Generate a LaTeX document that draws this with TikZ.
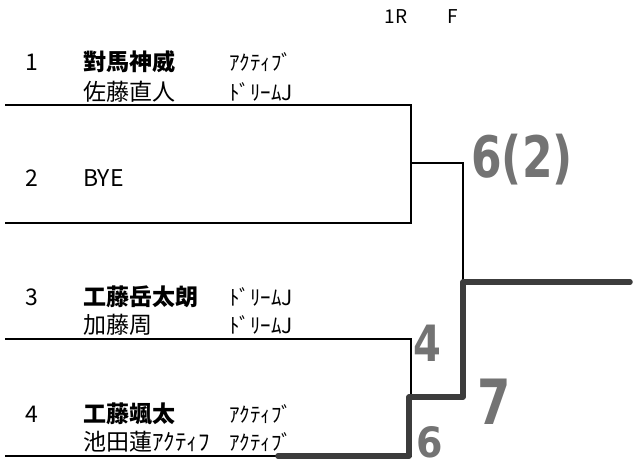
\documentclass[tikz,border=0pt]{standalone}
\usepackage{fontspec}
\newfontfamily\jpfont{Noto Sans CJK JP}
\newfontfamily\handfont{DejaVu Sans}
\definecolor{marker}{HTML}{3C3C3C}
\definecolor{pencil}{HTML}{737373}

\begin{document}
\begin{tikzpicture}[x=1pt, y=-1pt,
  every node/.style={inner sep=0pt, anchor=west, font=\jpfont\fontsize{23}{23}\selectfont},
  head/.style={anchor=center, font=\jpfont\fontsize{19}{19}\selectfont},
  club/.style={font=\jpfont\fontsize{21}{21}\selectfont},
  score/.style={anchor=center, text=pencil, font=\handfont\bfseries\fontsize{44}{44}\selectfont},
  thin/.style={line width=1.7pt},
  win/.style={line width=5.5pt, draw=marker, line cap=round, line join=round}]
            \useasboundingbox (0,0) rectangle (634,470);
            % Nodos
            \node[head] (r1) at (396,17) {1R};
            \node[head] (rf) at (453,17) {F};

            \node (s1) at (25,62) {1};
            \node[font=\jpfont\bfseries\fontsize{23}{23}\selectfont] (p1a) at (83,62) {對馬神威};
            \node[club] (c1a) at (229,62) {ｱｸﾃｨﾌﾞ};
            \node (p1b) at (83,92) {佐藤直人};
            \node[club] (c1b) at (229,92) {ﾄﾞﾘｰﾑJ};

            \node (s2) at (25,178) {2};
            \node (bye) at (83,178) {BYE};

            \node (s3) at (25,297) {3};
            \node[font=\jpfont\bfseries\fontsize{23}{23}\selectfont] (p3a) at (83,297) {工藤岳太朗};
            \node[club] (c3a) at (229,297) {ﾄﾞﾘｰﾑJ};
            \node (p3b) at (83,325) {加藤周};
            \node[club] (c3b) at (229,325) {ﾄﾞﾘｰﾑJ};

            \node (s4) at (25,414) {4};
            \node[font=\jpfont\bfseries\fontsize{23}{23}\selectfont] (p4a) at (83,414) {工藤颯太};
            \node[club] (c4a) at (229,414) {ｱｸﾃｨﾌﾞ};
            \node (p4b) at (83,442) {池田蓮ｱｸﾃｨﾌ};
            \node[club] (c4b) at (229,442) {ｱｸﾃｨﾌﾞ};

            \node[score] (sc12) at (522,160) {\scalebox{1}[1.3]{6(2)}};
            \node[score, font=\handfont\bfseries\fontsize{40}{40}\selectfont] (sc3) at (427,343) {\scalebox{1}[1.25]{4}};
            \node[score, font=\handfont\bfseries\fontsize{38}{38}\selectfont] (sc4) at (430,442) {\scalebox{1}[1.1]{6}};
            \node[score, font=\handfont\bfseries\fontsize{48}{48}\selectfont] (scf) at (494,402) {\scalebox{1}[1.3]{7}};

            % Puntos
            \coordinate (a1) at (5,105);
            \coordinate (a2) at (411,105);
            \coordinate (b1) at (5,223);
            \coordinate (b2) at (411,223);
            \coordinate (m1) at (411,163);
            \coordinate (m2) at (463,163);
            \coordinate (c1) at (5,339);
            \coordinate (c2) at (411,339);
            \coordinate (d1) at (5,456);
            \coordinate (d2) at (411,456);
            \coordinate (d0) at (278,456);
            \coordinate (e1) at (409,456);
            \coordinate (e2) at (409,397);
            \coordinate (e3) at (463,397);
            \coordinate (w) at (463,282);
            \coordinate (fin) at (630,282);

            % Aristas
            \draw[thin] (a1) -- (a2) -- (b2) -- (b1);
            \draw[thin] (m1) -- (m2) -- (w);
            \draw[thin] (c1) -- (c2) -- (d2) -- (d1);
            \draw[win] (d0) -- (e1) -- (e2) -- (e3) -- (w) -- (fin);
          \end{tikzpicture}
\end{document}
